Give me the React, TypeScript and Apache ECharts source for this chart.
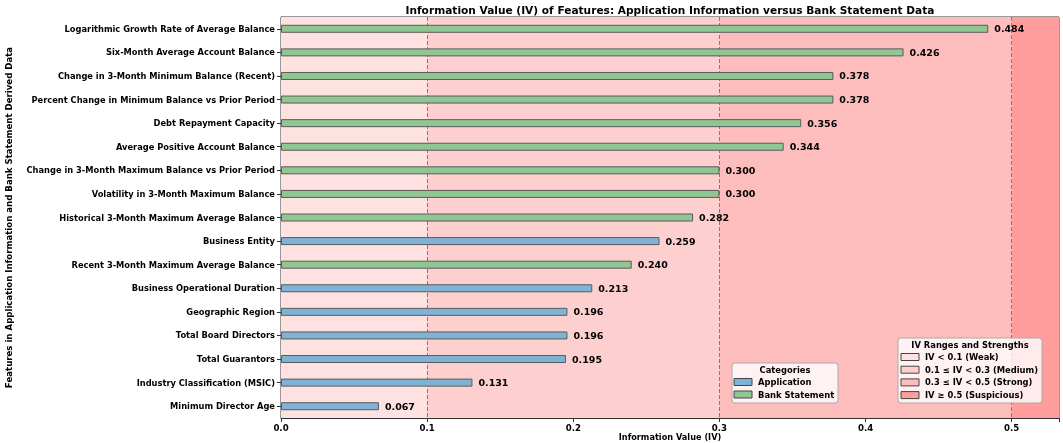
import React, { useEffect, useRef } from "react";
import * as echarts from "echarts";

const features = [
  "Logarithmic Growth Rate of Average Balance",
  "Six-Month Average Account Balance",
  "Change in 3-Month Minimum Balance (Recent)",
  "Percent Change in Minimum Balance vs Prior Period",
  "Debt Repayment Capacity",
  "Average Positive Account Balance",
  "Change in 3-Month Maximum Balance vs Prior Period",
  "Volatility in 3-Month Maximum Balance",
  "Historical 3-Month Maximum Average Balance",
  "Business Entity",
  "Recent 3-Month Maximum Average Balance",
  "Business Operational Duration",
  "Geographic Region",
  "Total Board Directors",
  "Total Guarantors",
  "Industry Classification (MSIC)",
  "Minimum Director Age",
];
const ivValues = [0.484, 0.426, 0.378, 0.378, 0.356, 0.344, 0.3, 0.3, 0.282, 0.259, 0.24, 0.213, 0.196, 0.196, 0.195, 0.131, 0.067];
const sources = ["B", "B", "B", "B", "B", "B", "B", "B", "B", "A", "B", "A", "A", "A", "A", "A", "A"];
const xTicks = [0, 0.1, 0.2, 0.3, 0.4, 0.5];
const ivBounds = [0, 0.1, 0.3, 0.5, 0.5324];
const ivRangeLabels = ["IV < 0.1 (Weak)", "0.1 ≤ IV < 0.3 (Medium)", "0.3 ≤ IV < 0.5 (Strong)", "IV ≥ 0.5 (Suspicious)"];
const categoryLabels = ["Application", "Bank Statement"];

const FONT = "DejaVu Sans";
const bandColors = ["#fee1e1", "#fdcfcf", "#febdbd", "#ff9d9d"];
const catColors = ["#7fb3d5", "#8fc693"];

export default function App() {
  const ref = useRef<HTMLDivElement>(null);
  useEffect(() => {
    const chart = echarts.init(ref.current!, null, { renderer: "svg" });
    const labelOpt = {
      show: true,
      position: "right",
      distance: 6,
      fontFamily: FONT,
      fontWeight: "bold",
      fontSize: 9.5,
      color: "#000",
      formatter: (p: any) => Number(p.value).toFixed(3),
    };
    const mkSeries = (code: string, idx: number) => ({
      type: "bar",
      name: categoryLabels[idx],
      data: ivValues.map((v, i) => (sources[i] === code ? v : null)),
      barWidth: 8,
      barGap: "-100%",
      z: 5,
      itemStyle: { color: catColors[idx], borderColor: "#5a5a5a", borderWidth: 1 },
      label: labelOpt,
    });
    const legendBox = (x: number, y: number, w: number, h: number) => ({
      type: "rect",
      shape: { x, y, width: w, height: h, r: 3 },
      style: { fill: "rgba(255,255,255,0.8)", stroke: "#aaa", lineWidth: 1 },
      z: 100,
    });
    const txt = (x: number, y: number, s: string, align = "left", size = 8.4) => ({
      type: "text",
      x,
      y,
      style: { text: s, fontFamily: FONT, fontWeight: "bold", fontSize: size, fill: "#000", align, verticalAlign: "middle" },
      z: 101,
    });
    const sw = (x: number, y: number, color: string) => ({
      type: "rect",
      shape: { x, y: y - 3.5, width: 18, height: 7 },
      style: { fill: color, stroke: "#444", lineWidth: 1 },
      z: 101,
    });
    const graphics: any[] = [];
    graphics.push(legendBox(732, 363, 106, 40));
    graphics.push(txt(785, 370, "Categories", "center"));
    categoryLabels.forEach((c, i) => {
      graphics.push(sw(734, 382 + i * 12.5, catColors[i]));
      graphics.push(txt(758, 382 + i * 12.5, c));
    });
    graphics.push(legendBox(898, 338, 144, 65));
    graphics.push(txt(970, 345, "IV Ranges and Strengths", "center"));
    ivRangeLabels.forEach((c, i) => {
      graphics.push(sw(901, 357 + i * 12.7, bandColors[i]));
      graphics.push(txt(925, 357 + i * 12.7, c));
    });
    graphics.push(txt(670, 10, "Information Value (IV) of Features: Application Information versus Bank Statement Data", "center", 10.6));
    graphics.push(txt(670, 437, "Information Value (IV)", "center", 8.2));

    chart.setOption({
      animation: false,
      grid: {
        left: 281, right: 4, top: 17, bottom: 25,
        outerBoundsMode: "none", containLabel: false,
        show: true, borderColor: "#333", borderWidth: 1, backgroundColor: "transparent",
      },
      xAxis: {
        type: "value",
        min: 0,
        max: ivBounds[4],
        interval: 0.1,
        axisLine: { show: true, lineStyle: { color: "#333" } },
        axisTick: { show: true, length: 4, lineStyle: { color: "#333" } },
        splitLine: { show: false },
        axisLabel: {
          fontFamily: FONT,
          fontWeight: "bold",
          fontSize: 8.6,
          color: "#000",
          margin: 5,
          formatter: (v: number) => (xTicks.some((t) => Math.abs(t - v) < 1e-9) ? v.toFixed(1) : ""),
        },
      },
      yAxis: {
        type: "category",
        data: features,
        inverse: true,
        name: "Features in Application Information and Bank Statement Derived Data",
        nameLocation: "middle",
        nameRotate: 90,
        nameGap: 268,
        nameTextStyle: { fontFamily: FONT, fontWeight: "bold", fontSize: 8.6, color: "#000" },
        axisLine: { show: true, lineStyle: { color: "#333" } },
        axisTick: { show: true, alignWithLabel: true, length: 4, lineStyle: { color: "#333" } },
        axisLabel: { fontFamily: FONT, fontWeight: "bold", fontSize: 8.3, color: "#000", margin: 6 },
      },
      series: [
        {
          type: "line",
          data: [],
          z: 1,
          silent: true,
          markArea: {
            silent: true,
            data: bandColors.map((c, i) => [
              { xAxis: ivBounds[i], itemStyle: { color: c } },
              { xAxis: ivBounds[i + 1] },
            ]),
          },
          markLine: {
            silent: true,
            symbol: "none",
            label: { show: false },
            lineStyle: { type: [4, 2], color: "#d8506a", width: 1 },
            data: [{ xAxis: 0.1 }, { xAxis: 0.3 }, { xAxis: 0.5 }],
          },
        },
        mkSeries("A", 0),
        mkSeries("B", 1),
      ],
      graphic: graphics,
    });
    return () => chart.dispose();
  }, []);
  return <div ref={ref} style={{ position: "fixed", left: 0, top: 0, width: 1063, height: 443 }} />;
}
